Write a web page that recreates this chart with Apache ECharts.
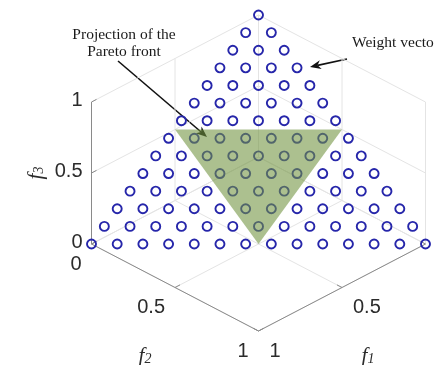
<!DOCTYPE html>
<html>
<head>
<meta charset="utf-8">
<title>Weight vectors on the simplex</title>
<script src="https://cdn.jsdelivr.net/npm/echarts@6/dist/echarts.min.js"></script>
<style>
  html, body { margin: 0; padding: 0; background: #fff; }
  #chart { width: 434px; height: 365px; }
</style>
</head>
<body>
<div id="chart"></div>
<script>
// Number of divisions on each objective (weights are numerators / H)
const H = 13;

// Weight vectors [f1, f2, f3] as numerators over H, one row per f3 level
const weightNumerators = [
  [0,0,13],
  [1,0,12],[0,1,12],
  [2,0,11],[1,1,11],[0,2,11],
  [3,0,10],[2,1,10],[1,2,10],[0,3,10],
  [4,0,9],[3,1,9],[2,2,9],[1,3,9],[0,4,9],
  [5,0,8],[4,1,8],[3,2,8],[2,3,8],[1,4,8],[0,5,8],
  [6,0,7],[5,1,7],[4,2,7],[3,3,7],[2,4,7],[1,5,7],[0,6,7],
  [7,0,6],[6,1,6],[5,2,6],[4,3,6],[3,4,6],[2,5,6],[1,6,6],[0,7,6],
  [8,0,5],[7,1,5],[6,2,5],[5,3,5],[4,4,5],[3,5,5],[2,6,5],[1,7,5],[0,8,5],
  [9,0,4],[8,1,4],[7,2,4],[6,3,4],[5,4,4],[4,5,4],[3,6,4],[2,7,4],[1,8,4],[0,9,4],
  [10,0,3],[9,1,3],[8,2,3],[7,3,3],[6,4,3],[5,5,3],[4,6,3],[3,7,3],[2,8,3],[1,9,3],[0,10,3],
  [11,0,2],[10,1,2],[9,2,2],[8,3,2],[7,4,2],[6,5,2],[5,6,2],[4,7,2],[3,8,2],[2,9,2],[1,10,2],[0,11,2],
  [12,0,1],[11,1,1],[10,2,1],[9,3,1],[8,4,1],[7,5,1],[6,6,1],[5,7,1],[4,8,1],[3,9,1],[2,10,1],[1,11,1],[0,12,1],
  [13,0,0],[12,1,0],[11,2,0],[10,3,0],[9,4,0],[8,5,0],[7,6,0],[6,7,0],[5,8,0],[4,9,0],[3,10,0],[2,11,0],[1,12,0],[0,13,0]
];

// Vertices of the (inverted) Pareto front projected onto the simplex
const frontVertices = [[0.5,0,0.5],[0,0.5,0.5],[0.5,0.5,0]];

// Tick values shared by the three objective axes
const tickValues = [0, 0.5, 1];
const tickLabels = ['0', '0.5', '1'];

// ---- 3D view: orthographic projection seen along (1,1,1) ----
const TILT = 87 / 142;          // drop of the floor per unit f1/f2, relative to f3 height
function proj(w) {
  return [w[1] - w[0], w[2] - TILT * (w[0] + w[1])];
}

const BLUE = '#2626aa';
const SANS = '"Liberation Sans", Arial, Helvetica, sans-serif';
const SERIF = '"Liberation Serif", "Times New Roman", Times, serif';

// Scatter points
const points = weightNumerators.map(n => proj([n[0] / H, n[1] / H, n[2] / H]));

// Back walls and floor grid lines
const gridSegs = [];
tickValues.forEach(t => {
  // wall f2 = 0
  gridSegs.push([[0,0,t],[1,0,t]], [[t,0,0],[t,0,1]]);
  // wall f1 = 0
  gridSegs.push([[0,0,t],[0,1,t]], [[0,t,0],[0,t,1]]);
  // floor f3 = 0
  gridSegs.push([[t,0,0],[t,1,0]], [[0,t,0],[1,t,0]]);
});

// Axis lines
const axisSegs = [
  [[1,0,0],[1,0,1]],   // f3
  [[1,0,0],[1,1,0]],   // f2
  [[1,1,0],[0,1,0]]    // f1
];
const TL = 0.03;
tickValues.forEach(t => {
  axisSegs.push([[1,0,t],[1 - TL,0,t]]);
  axisSegs.push([[1,t,0],[1 - TL,t,0]]);
  axisSegs.push([[t,1,0],[t,1 - TL,0]]);
});

function segData(list) {
  return list.map(s => { const a = proj(s[0]), b = proj(s[1]); return [a[0], a[1], b[0], b[1]]; });
}

// Tick labels (anchored to axis points, with pixel offsets)
const labelItems = [];
tickValues.forEach((t, i) => {
  labelItems.push({ p: proj([1,0,t]), dx: -9, dy: -2, align: 'right', text: tickLabels[i] });
  labelItems.push({ p: proj([1,t,0]), dx: -10, dy: 20, align: 'right', text: tickLabels[i] });
  labelItems.push({ p: proj([t,1,0]), dx: 11, dy: 20, align: 'left', text: tickLabels[i] });
});

// Axis titles
const titleItems = [
  { p: proj([1,0,0.5]), dx: -56, dy: 0, sub: '3', rot: Math.PI / 2 },
  { p: proj([1,0.5,0]), dx: -30, dy: 68, sub: '2', rot: 0 },
  { p: proj([0.5,1,0]), dx: 26, dy: 68, sub: '1', rot: 0 }
];

function segSeries(name, list, color, width, z) {
  return {
    name, type: 'custom', silent: true, z,
    coordinateSystem: 'cartesian2d',
    data: segData(list),
    encode: { x: [0, 2], y: [1, 3] },
    renderItem: (params, api) => {
      const a = api.coord([api.value(0), api.value(1)]);
      const b = api.coord([api.value(2), api.value(3)]);
      return { type: 'line', shape: { x1: a[0], y1: a[1], x2: b[0], y2: b[1] },
               style: { stroke: color, lineWidth: width } };
    }
  };
}

// Annotation arrow (line with a notched head)
function arrow(sx, sy, tx, ty) {
  const dx = tx - sx, dy = ty - sy, len = Math.hypot(dx, dy);
  const ux = dx / len, uy = dy / len, nx = -uy, ny = ux;
  const L = 11, W = 4.5;
  return {
    type: 'group', silent: true, z: 100,
    children: [
      { type: 'line', shape: { x1: sx, y1: sy, x2: tx - ux * L * 0.7, y2: ty - uy * L * 0.7 },
        style: { stroke: '#111', lineWidth: 1.6 } },
      { type: 'polygon', shape: { points: [
          [tx, ty],
          [tx - ux * L + nx * W, ty - uy * L + ny * W],
          [tx - ux * L * 0.7, ty - uy * L * 0.7],
          [tx - ux * L - nx * W, ty - uy * L - ny * W]
        ] }, style: { fill: '#111' } }
    ]
  };
}

function annText(text, x, y, align) {
  return { type: 'text', silent: true, z: 100, x, y,
    style: { text, font: '15.5px ' + SERIF, fill: '#1a1a1a',
             textAlign: align, align, textVerticalAlign: 'middle', verticalAlign: 'middle' } };
}

const chart = echarts.init(document.getElementById('chart'), null, { renderer: 'canvas' });
chart.setOption({
  animation: false,
  backgroundColor: '#fff',
  grid: { left: 0, right: 0, top: 0, bottom: 0 },
  xAxis: { type: 'value', min: -258.5 / 167, max: 175.5 / 167, show: false },
  yAxis: { type: 'value', min: -208 / 142, max: 157 / 142, show: false },
  series: [
    segSeries('grid', gridSegs, '#e4e4e4', 1, 1),
    segSeries('axes', axisSegs, '#8a8a8a', 1, 2),
    {
      name: 'Weight vectors', type: 'scatter', silent: true, z: 3,
      data: points,
      symbol: 'circle', symbolSize: 9,
      itemStyle: { color: 'rgba(0,0,0,0)', borderColor: BLUE, borderWidth: 1.9, opacity: 1 }
    },
    {
      name: 'Pareto front', type: 'custom', silent: true, z: 4,
      coordinateSystem: 'cartesian2d',
      data: [[0, 0]],
      renderItem: (params, api) => ({
        type: 'polygon',
        shape: { points: frontVertices.map(v => api.coord(proj(v))) },
        style: { fill: 'rgba(112,146,62,0.58)' }
      })
    },
    {
      name: 'tick labels', type: 'custom', silent: true, z: 5,
      coordinateSystem: 'cartesian2d',
      data: labelItems.map(l => l.p),
      renderItem: (params, api) => {
        const l = labelItems[params.dataIndex];
        const c = api.coord(l.p);
        return { type: 'text', x: c[0] + l.dx, y: c[1] + l.dy,
          style: { text: l.text, font: '20px ' + SANS, fill: '#2b2b2b',
                   textAlign: l.align, align: l.align,
                   textVerticalAlign: 'middle', verticalAlign: 'middle' } };
      }
    },
    {
      name: 'axis titles', type: 'custom', silent: true, z: 5,
      coordinateSystem: 'cartesian2d',
      data: titleItems.map(t => t.p),
      renderItem: (params, api) => {
        const t = titleItems[params.dataIndex];
        const c = api.coord(t.p);
        return { type: 'text', x: c[0] + t.dx, y: c[1] + t.dy, rotation: t.rot,
          style: { text: '{f|f}{s|' + t.sub + '}', fill: '#2b2b2b',
                   textAlign: 'center', align: 'center',
                   textVerticalAlign: 'middle', verticalAlign: 'middle',
                   rich: {
                     f: { font: 'italic 21px ' + SERIF, lineHeight: 22, verticalAlign: 'bottom', fill: '#2b2b2b' },
                     s: { font: 'italic 14px ' + SERIF, lineHeight: 14, verticalAlign: 'bottom', fill: '#2b2b2b' }
                   } } };
      }
    }
  ],
  graphic: [
    annText('Projection of the', 124, 35, 'center'),
    annText('Pareto front', 124, 52, 'center'),
    arrow(118, 61, 207, 137),
    annText('Weight vector', 352, 43, 'left'),
    arrow(347, 59, 310, 67)
  ]
});
</script>
</body>
</html>
